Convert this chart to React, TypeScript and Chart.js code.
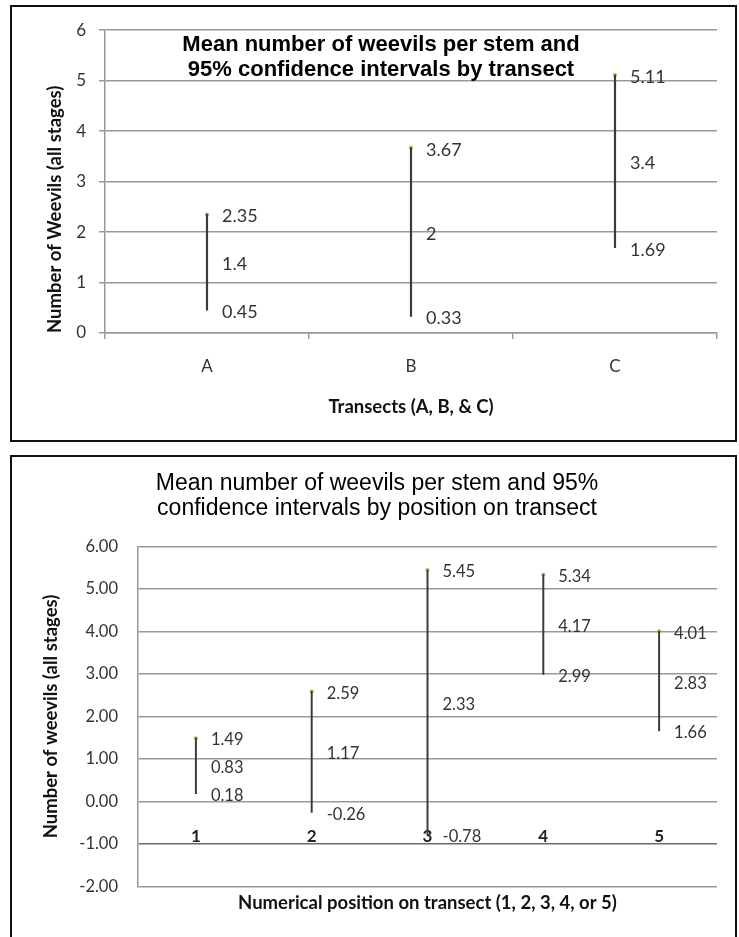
import React, { useEffect, useRef } from 'react';
import { Chart, registerables } from 'chart.js';

Chart.register(...registerables);

// ---- Chart 1: by transect ----
const transectLabels = ['A', 'B', 'C'];
const transectLow = [0.45, 0.33, 1.69];
const transectMean = [1.4, 2, 3.4];
const transectHigh = [2.35, 3.67, 5.11];
const transectTitle = ['Mean number of weevils per stem and', '95% confidence intervals by transect'];

// ---- Chart 2: by position on transect ----
const positionLabels = ['1', '2', '3', '4', '5'];
const positionLow = [0.18, -0.26, -0.78, 2.99, 1.66];
const positionMean = [0.83, 1.17, 2.33, 4.17, 2.83];
const positionHigh = [1.49, 2.59, 5.45, 5.34, 4.01];
const positionTitle = ['Mean number of weevils per stem and 95%', 'confidence intervals by position on transect'];

const LATO = "Lato, 'Open Sans', sans-serif";
const ARIAL = "'Liberation Sans', Arial, sans-serif";
const GRID = '#999999';
const TEXT = '#333333';
const BAR = '#3a3a3a';
const DOT = '#9bbb59';

function makeValueLabels(series: number[][], font: string, color: string, dx: number, dy: number) {
  return {
    id: 'valueLabels',
    afterDatasetsDraw(chart: any) {
      const { ctx } = chart;
      const x = chart.scales.x;
      const y = chart.scales.y;
      ctx.save();
      ctx.font = font;
      ctx.fillStyle = color;
      ctx.textAlign = 'left';
      ctx.textBaseline = 'middle';
      series.forEach((values) =>
        values.forEach((v, i) => {
          ctx.fillText(String(v), x.getPixelForValue(i) + dx, y.getPixelForValue(v) + dy);
        })
      );
      ctx.restore();
    },
  };
}

function buildTop(): any {
  return {
    type: 'bar',
    data: {
      labels: transectLabels,
      datasets: [
        {
          type: 'bar',
          data: transectLabels.map((_, i) => [transectLow[i], transectHigh[i]]),
          backgroundColor: BAR,
          barThickness: 1.5,
        },
        {
          type: 'line',
          data: transectHigh,
          showLine: false,
          pointRadius: 2,
          pointBorderWidth: 0,
          pointBackgroundColor: DOT,
        },
      ],
    },
    options: {
      animation: false,
      responsive: false,
      layout: { padding: { left: 33, right: 18, top: 0, bottom: 0 } },
      plugins: {
        legend: { display: false },
        tooltip: { enabled: false },
        title: {
          display: true,
          text: transectTitle,
          color: '#000',
          font: { family: ARIAL, size: 22, weight: 'bold', lineHeight: 25 / 22 },
          padding: { top: 23.8, bottom: -51.8 },
        },
      },
      scales: {
        x: {
          offset: true,
          grid: { offset: true, drawOnChartArea: false, drawTicks: true, tickLength: 6, color: GRID, lineWidth: 1.5 },
          border: { display: true, color: GRID, width: 1.5 },
          ticks: { padding: 17.5, color: TEXT, font: { family: LATO, size: 17 } },
          title: {
            display: true,
            text: 'Transects (A, B, & C)',
            color: '#111',
            font: { family: LATO, size: 18.5, weight: 'bold' },
            padding: { top: 0, bottom: 22.2 },
          },
          afterFit: (s: any) => { s.height = 107; },
        },
        y: {
          min: 0,
          max: 6,
          ticks: { stepSize: 1, padding: 13, color: TEXT, font: { family: LATO, size: 17 } },
          grid: { color: GRID, lineWidth: 1.5, tickLength: 6 },
          border: { display: true, color: GRID, width: 1.5 },
          title: {
            display: true,
            text: 'Number of Weevils (all stages)',
            align: 'start',
            color: '#111',
            font: { family: LATO, size: 18.5, weight: 'bold' },
            padding: { top: -1, bottom: 0 },
          },
          afterFit: (s: any) => { s.width = 60; },
        },
      },
    },
    plugins: [makeValueLabels([transectHigh, transectMean, transectLow], `18px ${LATO}`, TEXT, 15, 2)],
  };
}

function buildBottom(): any {
  return {
    type: 'bar',
    data: {
      labels: positionLabels,
      datasets: [
        {
          type: 'bar',
          data: positionLabels.map((_, i) => [positionLow[i], positionHigh[i]]),
          backgroundColor: BAR,
          barThickness: 1.3,
        },
        {
          type: 'line',
          data: positionHigh,
          showLine: false,
          pointRadius: 2,
          pointBorderWidth: 0,
          pointBackgroundColor: DOT,
        },
      ],
    },
    options: {
      animation: false,
      responsive: false,
      layout: { padding: { left: 25, right: 18, top: 0, bottom: 0 } },
      plugins: {
        legend: { display: false },
        tooltip: { enabled: false },
        title: {
          display: true,
          text: positionTitle,
          color: '#000',
          font: { family: ARIAL, size: 23, weight: 'normal', lineHeight: 25 / 23 },
          padding: { top: 14.5, bottom: 25.2 },
        },
      },
      scales: {
        x: {
          offset: true,
          grid: { display: false },
          border: { display: false },
          ticks: { mirror: true, padding: 40, color: '#222', font: { family: LATO, size: 17, weight: 'bold' } },
          title: {
            display: true,
            text: 'Numerical position on transect (1, 2, 3, 4, or 5)',
            color: '#111',
            font: { family: LATO, size: 18.5, weight: 'bold' },
            padding: { top: 0, bottom: 22.9 },
          },
          afterFit: (s: any) => { s.height = 50.7; },
        },
        y: {
          min: -2,
          max: 6,
          ticks: {
            stepSize: 1,
            padding: 20,
            color: TEXT,
            font: { family: LATO, size: 16.5 },
            callback: (v: any) => Number(v).toFixed(2),
          },
          grid: {
            drawTicks: false,
            lineWidth: 1.5,
            color: (ctx: any) => (ctx.tick && ctx.tick.value === -1 ? '#6a6a6a' : GRID),
          },
          border: { display: true, color: GRID, width: 1.5 },
          title: {
            display: true,
            text: 'Number of weevils (all stages)',
            color: '#111',
            font: { family: LATO, size: 18.5, weight: 'bold' },
            padding: { top: 2.9, bottom: 0 },
          },
          afterFit: (s: any) => { s.width = 101; },
        },
      },
    },
    plugins: [makeValueLabels([positionHigh, positionMean, positionLow], `16.5px ${LATO}`, TEXT, 15, 2)],
  };
}

function ChartCanvas({ width, height, build }: { width: number; height: number; build: () => any }) {
  const ref = useRef<HTMLCanvasElement | null>(null);
  useEffect(() => {
    const chart = new Chart(ref.current as HTMLCanvasElement, build());
    return () => chart.destroy();
  }, []);
  return <canvas ref={ref} width={width} height={height} style={{ display: 'block', width, height }} />;
}

export default function App() {
  return (
    <>
      <div
        style={{
          position: 'absolute',
          left: 10,
          top: 5,
          width: 727,
          height: 437,
          boxSizing: 'border-box',
          border: '2px solid #111',
          background: '#fff',
        }}
      >
        <ChartCanvas width={723} height={433} build={buildTop} />
      </div>
      <div
        style={{
          position: 'absolute',
          left: 10,
          top: 455,
          width: 727,
          height: 482,
          boxSizing: 'border-box',
          border: '2px solid #111',
          borderBottom: 'none',
          background: '#fff',
        }}
      >
        <ChartCanvas width={723} height={480} build={buildBottom} />
      </div>
    </>
  );
}
